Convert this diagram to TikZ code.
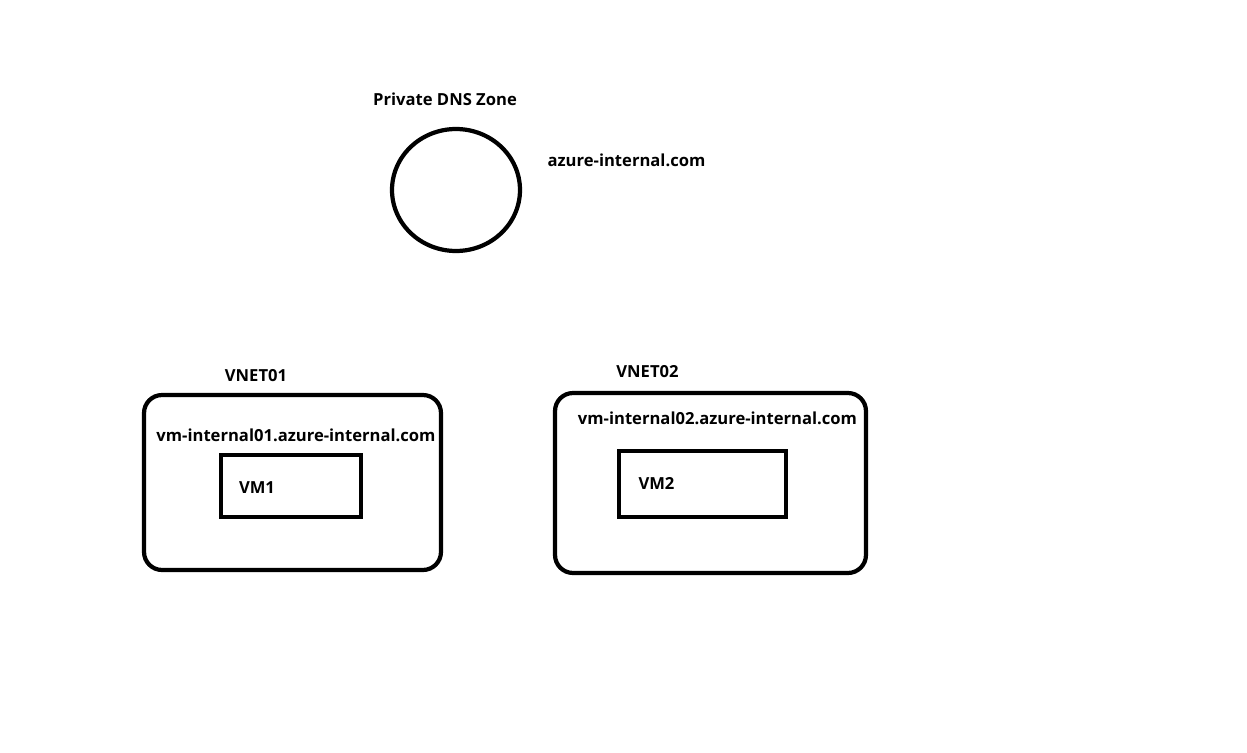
\documentclass[tikz,border=0pt]{standalone}
\usepackage{fontspec}
\setmainfont{Open Sans}
\usetikzlibrary{shapes.geometric}

\begin{document}
\begin{tikzpicture}[x=0.02cm,y=-0.02cm]

\tikzset{label/.style = {font=\bfseries\fontsize{9.45}{11}\selectfont, inner sep=0pt}}
\tikzset{zone/.style = {shape=ellipse,draw,line width=2.4pt,minimum width=2.56cm,minimum height=2.44cm}}
\tikzset{vnet/.style = {shape=rectangle,draw,line width=2.4pt,rounded corners=0.36cm}}
\tikzset{vm/.style = {shape=rectangle,draw,line width=2.4pt}}
\useasboundingbox (0,0) rectangle (1247,753);

% dns zone
\node[label] (zonename) at (445,99) {Private DNS Zone};
\node[zone] (zone) at (456,190) {};
\node[label] (domain) at (626.5,160) {azure-internal.com};

% vnets
\node[vnet,minimum width=5.94cm,minimum height=3.5cm] (vnet1) at (292.5,482.5) {};
\node[vnet,minimum width=6.22cm,minimum height=3.6cm] (vnet2) at (710.5,483) {};
\node[label] (vnet1name) at (256,376) {VNET01};
\node[label] (vnet2name) at (647.5,372) {VNET02};
\node[label] (host1) at (296,435) {vm-internal01.azure-internal.com};
\node[label] (host2) at (717.5,418) {vm-internal02.azure-internal.com};

% vms
\node[vm,minimum width=2.8cm,minimum height=1.24cm] (vm1) at (291,486) {};
\node[vm,minimum width=3.34cm,minimum height=1.32cm] (vm2) at (702.5,484) {};
\node[label] (vm1name) at (257,488) {VM1};
\node[label] (vm2name) at (656.5,483) {VM2};
\end{tikzpicture}
\end{document}
